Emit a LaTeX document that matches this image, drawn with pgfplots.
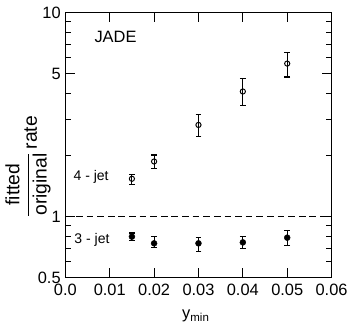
\documentclass[border=0pt]{standalone}
\usepackage{amsmath}
\usepackage{pgfplots}
\pgfplotsset{compat=1.18}
\usepackage{fontspec}
\setmainfont{Liberation Sans}
\begin{document}
\fontsize{17}{20}\selectfont
\begin{tikzpicture}
\begin{axis}[
  scale only axis, width=276pt, height=275pt,
  xmin=0, xmax=0.06, ymode=log, ymin=0.5, ymax=10,
  scaled x ticks=false,
  xtick={0,0.01,0.02,0.03,0.04,0.05,0.06},
  xticklabels={0.0,0.01,0.02,0.03,0.04,0.05,0.06},
  ytick={0.5,1,5,10}, yticklabels={0.5,1,5,10},
  minor ytick={0.6,0.7,0.8,0.9,2,3,4,6,7,8,9},
  tick align=inside, major tick length=10pt, minor tick length=6pt,
  axis line style={line width=1.3pt},
  tick style={line width=1pt, black},
  ticklabel style={font=\fontsize{17}{20}\selectfont},
  xticklabel style={yshift=-1pt},
  yticklabel style={xshift=1pt},
  xlabel={y\textsubscript{min}},
  xlabel style={at={(rel axis cs:0.49,-0.145)}, anchor=center, font=\fontsize{17}{20}\selectfont},
  ylabel={$\dfrac{\text{fitted}}{\text{original}}$\,\raisebox{-4pt}{rate}},
  ylabel style={at={(rel axis cs:-0.14,0.42)}, anchor=center, font=\fontsize{20}{24}\selectfont},
  clip=false,
]
\addplot[black, dashed, line width=1pt, dash pattern=on 7pt off 4pt] coordinates {(0,1) (0.06,1)};
\addplot[black, only marks, mark=o, mark size=2.7pt, line width=1pt,
  error bars/.cd, y dir=both, y explicit,
  error bar style={line width=1.2pt, black},
  error mark options={rotate=90, mark size=3pt, line width=1.2pt, black}]
coordinates {
 (0.015,1.53) += (0,0.08) -= (0,0.10)
 (0.02,1.86)  += (0,0.14) -= (0,0.14)
 (0.03,2.81)  += (0,0.35) -= (0,0.34)
 (0.04,4.10)  += (0,0.63) -= (0,0.61)
 (0.05,5.62)  += (0,0.72) -= (0,0.79)
};
\addplot[black, only marks, mark=*, mark size=3.1pt,
  error bars/.cd, y dir=both, y explicit,
  error bar style={line width=1.2pt, black},
  error mark options={rotate=90, mark size=3pt, line width=1.2pt, black}]
coordinates {
 (0.015,0.796) += (0,0.034) -= (0,0.036)
 (0.02,0.738)  += (0,0.058) -= (0,0.032)
 (0.03,0.738)  += (0,0.049) -= (0,0.062)
 (0.04,0.746)  += (0,0.050) -= (0,0.048)
 (0.05,0.787)  += (0,0.063) -= (0,0.065)
};
\node[font=\fontsize{17}{20}\selectfont] at (axis cs:0.0113,7.6) {JADE};
\node[font=\fontsize{14.5}{18}\selectfont] at (axis cs:0.0058,1.56) {4 - jet};
\node[font=\fontsize{14.5}{18}\selectfont] at (axis cs:0.0060,0.77) {3 - jet};
\end{axis}
\path ([shift={(-66pt,-50pt)}]current axis.south west) rectangle ([shift={(11pt,13pt)}]current axis.north east);
\end{tikzpicture}
\end{document}
